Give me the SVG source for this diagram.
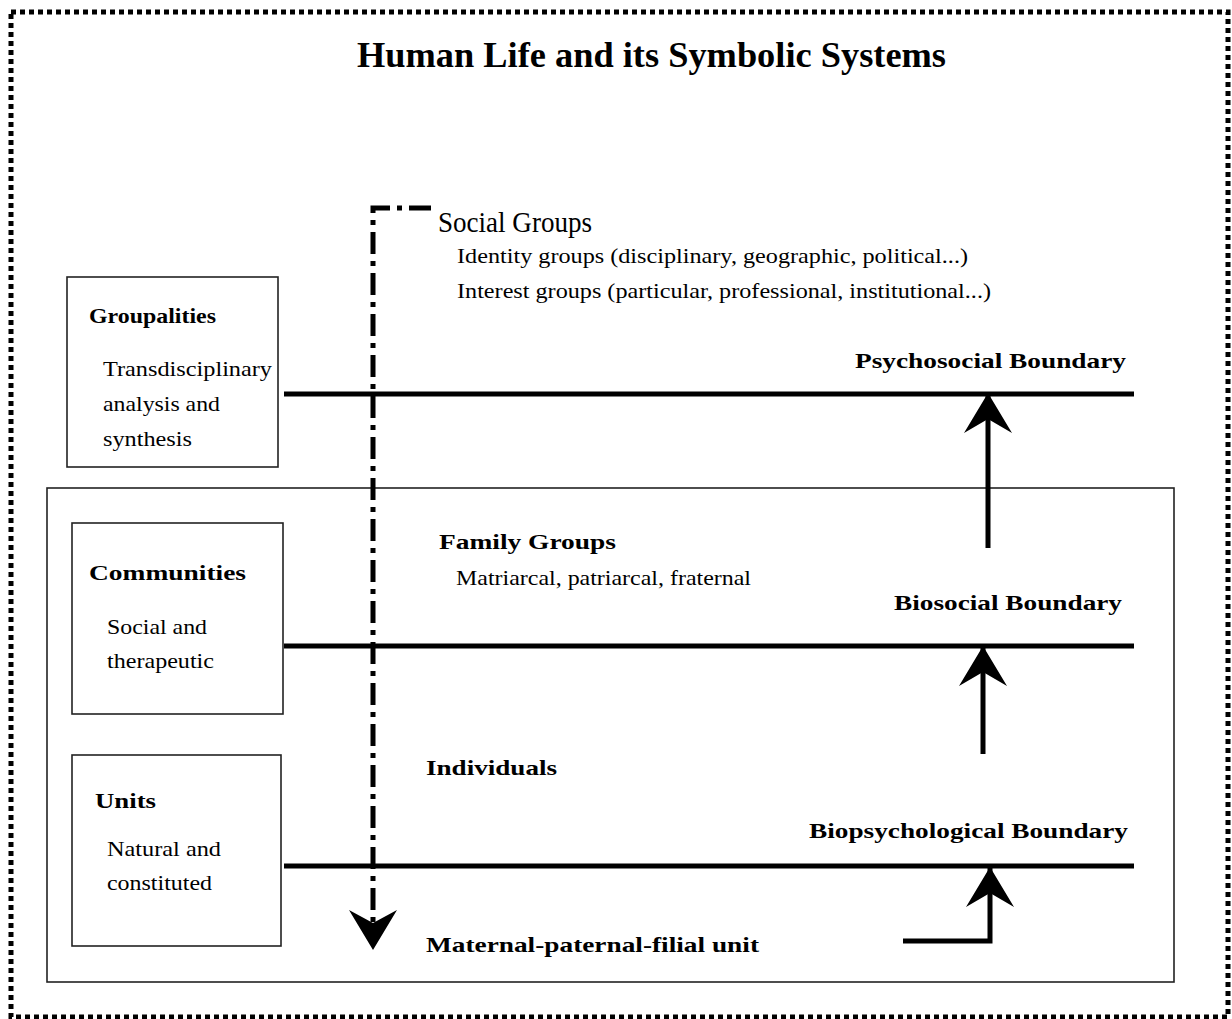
<svg xmlns="http://www.w3.org/2000/svg" width="1232" height="1019" viewBox="0 0 1232 1019">
<style>
  text { font-family: "Liberation Serif", "DejaVu Serif", serif; fill: #000; }
  .title { font-size: 36px; font-weight: bold; }
  .lbl { font-size: 22px; font-weight: bold; }
  .body { font-size: 22px; }
  .big { font-size: 29px; }
  .box { fill: none; stroke: #222; stroke-width: 1.6; }
  .bound { stroke: #000; stroke-width: 5; fill: none; }
  .arrow { stroke: #000; stroke-width: 5; fill: none; marker-end: url(#head); }
  .dashdot { stroke: #000; stroke-width: 5; fill: none; stroke-dasharray: 22 7 5 7; }
</style>
<defs>
  <marker id="head" markerUnits="userSpaceOnUse" viewBox="-42 -26 44 52" refX="0" refY="0" markerWidth="44" markerHeight="52" orient="auto">
    <path d="M0,0 L-40,-24 L-26,0 L-40,24 Z" fill="#000"/>
  </marker>
</defs>
<rect width="1232" height="1019" fill="#fff"/>
<rect x="11" y="12" width="1217" height="1005" fill="none" stroke="#000" stroke-width="5" stroke-dasharray="5 4"/>

<g id="title">
  <text class="title" x="357" y="67" textLength="589" lengthAdjust="spacingAndGlyphs">Human Life and its Symbolic Systems</text>
</g>

<g id="region-box">
  <rect class="box" x="47" y="488" width="1127" height="494"/>
</g>

<g id="node-groupalities">
  <rect class="box" x="67" y="277" width="211" height="190"/>
  <text class="lbl" x="89" y="323" textLength="127" lengthAdjust="spacingAndGlyphs">Groupalities</text>
  <text class="body" x="103" y="376" textLength="169" lengthAdjust="spacingAndGlyphs">Transdisciplinary</text>
  <text class="body" x="103" y="411" textLength="117" lengthAdjust="spacingAndGlyphs">analysis and</text>
  <text class="body" x="103" y="446" textLength="89" lengthAdjust="spacingAndGlyphs">synthesis</text>
</g>

<g id="node-communities">
  <rect class="box" x="72" y="523" width="211" height="191"/>
  <text class="lbl" x="89" y="580" textLength="157" lengthAdjust="spacingAndGlyphs">Communities</text>
  <text class="body" x="107" y="634" textLength="100" lengthAdjust="spacingAndGlyphs">Social and</text>
  <text class="body" x="107" y="668" textLength="107" lengthAdjust="spacingAndGlyphs">therapeutic</text>
</g>

<g id="node-units">
  <rect class="box" x="72" y="755" width="209" height="191"/>
  <text class="lbl" x="95" y="808" textLength="61" lengthAdjust="spacingAndGlyphs">Units</text>
  <text class="body" x="107" y="856" textLength="114" lengthAdjust="spacingAndGlyphs">Natural and</text>
  <text class="body" x="107" y="890" textLength="105" lengthAdjust="spacingAndGlyphs">constituted</text>
</g>

<g id="node-social-groups">
  <text class="big" x="438" y="232" textLength="154" lengthAdjust="spacingAndGlyphs">Social Groups</text>
  <text class="body" x="457" y="263" textLength="511" lengthAdjust="spacingAndGlyphs">Identity groups (disciplinary, geographic, political...)</text>
  <text class="body" x="457" y="298" textLength="534" lengthAdjust="spacingAndGlyphs">Interest groups (particular, professional, institutional...)</text>
</g>

<g id="node-family-groups">
  <text class="lbl" x="439" y="549" textLength="177" lengthAdjust="spacingAndGlyphs">Family Groups</text>
  <text class="body" x="456" y="585" textLength="295" lengthAdjust="spacingAndGlyphs">Matriarcal, patriarcal, fraternal</text>
</g>

<g id="node-individuals">
  <text class="lbl" x="426" y="775" textLength="131" lengthAdjust="spacingAndGlyphs">Individuals</text>
</g>

<g id="node-maternal">
  <text class="lbl" x="426" y="952" textLength="333" lengthAdjust="spacingAndGlyphs">Maternal-paternal-filial unit</text>
</g>

<g id="node-psychosocial-boundary">
  <line class="bound" x1="284" y1="394" x2="1134" y2="394"/>
  <text class="lbl" x="855" y="368" textLength="271" lengthAdjust="spacingAndGlyphs">Psychosocial Boundary</text>
</g>

<g id="node-biosocial-boundary">
  <line class="bound" x1="284" y1="646" x2="1134" y2="646"/>
  <text class="lbl" x="894" y="610" textLength="228" lengthAdjust="spacingAndGlyphs">Biosocial Boundary</text>
</g>

<g id="node-biopsychological-boundary">
  <line class="bound" x1="284" y1="866" x2="1134" y2="866"/>
  <text class="lbl" x="809" y="838" textLength="319" lengthAdjust="spacingAndGlyphs">Biopsychological Boundary</text>
</g>

<g id="connectors">
  <path class="dashdot" d="M431,208 H373 V924"/>
  <path d="M373,950 L349,910 L373,923 L397,910 Z" fill="#000"/>
  <path class="arrow" d="M988,548 V393"/>
  <path class="arrow" d="M983,754 V646"/>
  <path class="arrow" d="M903,941 H990 V867"/>
</g>
</svg>
